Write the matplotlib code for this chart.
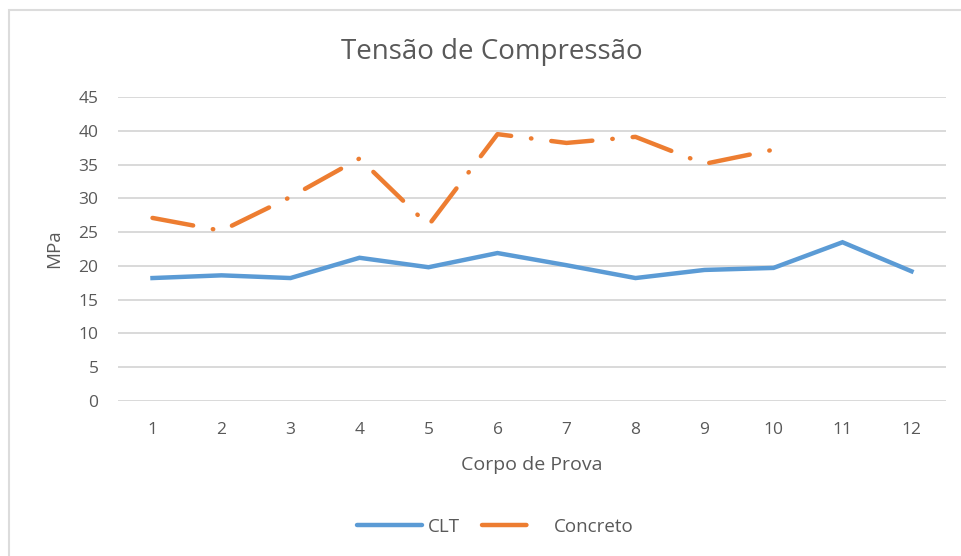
import matplotlib.pyplot as plt
from matplotlib.lines import Line2D
from matplotlib.patches import Rectangle

plt.rcParams['font.family'] = ['Open Sans', 'DejaVu Sans']

corpos = [1, 2, 3, 4, 5, 6, 7, 8, 9, 10, 11, 12]
clt = [18.2, 18.6, 18.2, 21.2, 19.8, 21.9, 20.1, 18.2, 19.4, 19.7, 23.5, 19.2]
corpos_concreto = [1, 2, 3, 4, 5, 6, 7, 8, 9, 10]
concreto = [27.1, 25.2, 30.2, 35.9, 26.0, 39.5, 38.2, 39.1, 35.1, 37.2]
y_ticks = [0, 5, 10, 15, 20, 25, 30, 35, 40, 45]

cinza = '#595959'
azul = '#5B9BD5'
laranja = '#ED7D31'
lw = 3.2

fig = plt.figure(figsize=(9.61, 5.56), dpi=100)
# moldura do grafico
fig.patches.append(Rectangle((8.5 / 961, -0.1), 1.2, 1.1 - 10 / 556,
                             transform=fig.transFigure, fill=False,
                             edgecolor='#dcdcdc', linewidth=1.5))

ax = fig.add_axes([118 / 961, 1 - 401 / 556, (946 - 118) / 961, (401 - 97) / 556])

ax.plot(corpos, clt, color=azul, linewidth=lw, solid_joinstyle='miter')
ax.plot(corpos_concreto, concreto, color=laranja, linewidth=lw,
        linestyle=(0, (9.3, 4.5, 0.1, 4.5)), dash_capstyle='round')

ax.set_xlim(0.5, 12.5)
ax.set_ylim(0, 45)
ax.set_xticks(corpos)
ax.set_yticks(y_ticks)
ax.tick_params(length=0, labelsize=12.5, labelcolor=cinza)
ax.tick_params(axis='x', pad=15)
ax.tick_params(axis='y', pad=14)
ax.grid(axis='y', color='#d9d9d9', linewidth=1.4)
ax.set_axisbelow(True)
for lado in ax.spines.values():
    lado.set_visible(False)

fig.text(492 / 961, 1 - 52 / 556, 'Tensão de Compressão', fontsize=20,
         color=cinza, ha='center', va='center')
ax.set_xlabel('Corpo de Prova', fontsize=14, color=cinza, labelpad=13)
ax.set_ylabel('MPa', fontsize=13.5, color=cinza, labelpad=11)

alcas = [
    Line2D([], [], color=azul, linewidth=lw, solid_capstyle='round'),
    Line2D([], [], color=laranja, linewidth=lw, dash_capstyle='round',
           linestyle=(0, (10, 20))),
]
fig.legend(alcas, ['CLT', 'Concreto'], loc='center',
           bbox_to_anchor=(495 / 961, 1 - 527 / 556), ncol=2,
           frameon=False, fontsize=13.5, labelcolor=cinza, handlelength=3.5,
           columnspacing=1.2, handletextpad=0.3)

fig.savefig('out.png', dpi=100)
